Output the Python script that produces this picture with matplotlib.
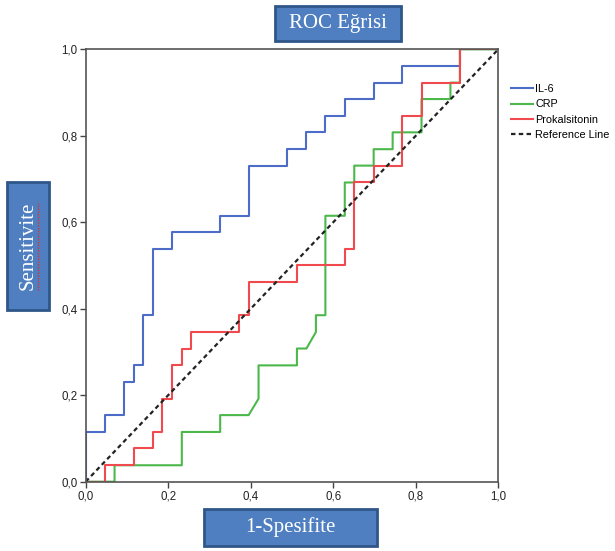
import matplotlib
matplotlib.use("Agg")
from matplotlib import pyplot as plt
from matplotlib.patches import FancyBboxPatch
from matplotlib.lines import Line2D

# ROC curve points (1 - specificity, sensitivity)
il6_x = [0.0, 0.0, 0.047, 0.047, 0.093, 0.093, 0.116, 0.116, 0.140, 0.140, 0.163, 0.163,
         0.209, 0.209, 0.326, 0.326, 0.395, 0.395, 0.488, 0.488, 0.535, 0.535, 0.581, 0.581,
         0.628, 0.628, 0.698, 0.698, 0.767, 0.767, 0.907, 0.907, 1.0]
il6_y = [0.0, 0.115, 0.115, 0.154, 0.154, 0.231, 0.231, 0.269, 0.269, 0.385, 0.385, 0.538,
         0.538, 0.577, 0.577, 0.615, 0.615, 0.731, 0.731, 0.769, 0.769, 0.808, 0.808, 0.846,
         0.846, 0.885, 0.885, 0.923, 0.923, 0.962, 0.962, 1.0, 1.0]

crp_x = [0.0, 0.070, 0.070, 0.233, 0.233, 0.326, 0.326, 0.395, 0.419, 0.419, 0.512, 0.512,
         0.535, 0.558, 0.558, 0.581, 0.581, 0.628, 0.628, 0.651, 0.651, 0.698, 0.698, 0.744,
         0.744, 0.814, 0.814, 0.884, 0.884, 0.907, 0.907, 1.0]
crp_y = [0.0, 0.0, 0.038, 0.038, 0.115, 0.115, 0.154, 0.154, 0.192, 0.269, 0.269, 0.308,
         0.308, 0.346, 0.385, 0.385, 0.615, 0.615, 0.692, 0.692, 0.731, 0.731, 0.769, 0.769,
         0.808, 0.808, 0.885, 0.885, 0.923, 0.923, 1.0, 1.0]

pct_x = [0.0, 0.047, 0.047, 0.116, 0.116, 0.163, 0.163, 0.186, 0.186, 0.209, 0.209, 0.233,
         0.233, 0.256, 0.256, 0.372, 0.372, 0.395, 0.395, 0.512, 0.512, 0.628, 0.628, 0.651,
         0.651, 0.698, 0.698, 0.767, 0.767, 0.814, 0.814, 0.907, 0.907, 1.0]
pct_y = [0.0, 0.0, 0.038, 0.038, 0.077, 0.077, 0.115, 0.115, 0.192, 0.192, 0.269, 0.269,
         0.308, 0.308, 0.346, 0.346, 0.385, 0.385, 0.462, 0.462, 0.500, 0.500, 0.538, 0.538,
         0.692, 0.692, 0.731, 0.731, 0.846, 0.846, 0.923, 0.923, 1.0, 1.0]

ticks = [0.0, 0.2, 0.4, 0.6, 0.8, 1.0]
tick_labels = ["0,0", "0,2", "0,4", "0,6", "0,8", "1,0"]

fig = plt.figure(figsize=(6.15, 5.51), dpi=100)
ax = fig.add_axes([0.1393, 0.1258, 0.6709, 0.7847])

ax.plot(il6_x, il6_y, color="#4c6cc8", lw=1.5, label="IL-6")
ax.plot(crp_x, crp_y, color="#4cb84c", lw=1.5, label="CRP")
ax.plot(pct_x, pct_y, color="#f04a4e", lw=1.5, label="Prokalsitonin")
ax.plot([0, 1], [0, 1], color="#222222", lw=1.6, ls=(0, (2, 1.5)), label="Reference Line")

ax.set_xlim(0, 1)
ax.set_ylim(0, 1)
ax.set_xticks(ticks)
ax.set_xticklabels(tick_labels)
ax.set_yticks(ticks)
ax.set_yticklabels(tick_labels)
ax.tick_params(length=4, width=1, color="#444444", labelsize=8.3, pad=2)
for lbl in ax.get_xticklabels() + ax.get_yticklabels():
    lbl.set_family("Liberation Sans")
    lbl.set_color("#222222")
for s in ax.spines.values():
    s.set_color("#555555")
    s.set_linewidth(1.2)

leg = ax.legend(loc="upper left", bbox_to_anchor=(1.02, 0.93), frameon=False,
                prop={"family": "Liberation Sans", "size": 7.8},
                handlelength=2.0, handletextpad=0.25, labelspacing=0.5, borderaxespad=0)

# blue text boxes
def box(x0, y0, x1, y1, text, rotation=0):
    fx0, fx1 = x0 / 615, x1 / 615
    fy0, fy1 = 1 - y1 / 551, 1 - y0 / 551
    p = FancyBboxPatch((fx0, fy0), fx1 - fx0, fy1 - fy0, boxstyle="square,pad=0",
                       transform=fig.transFigure, facecolor="#4f7fc0",
                       edgecolor="#2f5688", lw=2)
    fig.add_artist(p)
    fig.text((fx0 + fx1) / 2, (fy0 + fy1) / 2, text, color="white", rotation=rotation,
             family="Liberation Serif", size=15, ha="center", va="center")

box(275, 6, 401, 41, "ROC Eğrisi")
box(204, 509, 377, 546, "1-Spesifite")
box(7, 182, 49, 310, "Sensitivite", rotation=90)

# red spell-check squiggle under the rotated label
fig.add_artist(Line2D([38 / 615, 38 / 615], [1 - 290 / 551, 1 - 203 / 551],
                      transform=fig.transFigure, color="#e03030", lw=1.0, ls=(0, (1, 1))))

fig.savefig("out.png", dpi=100)
